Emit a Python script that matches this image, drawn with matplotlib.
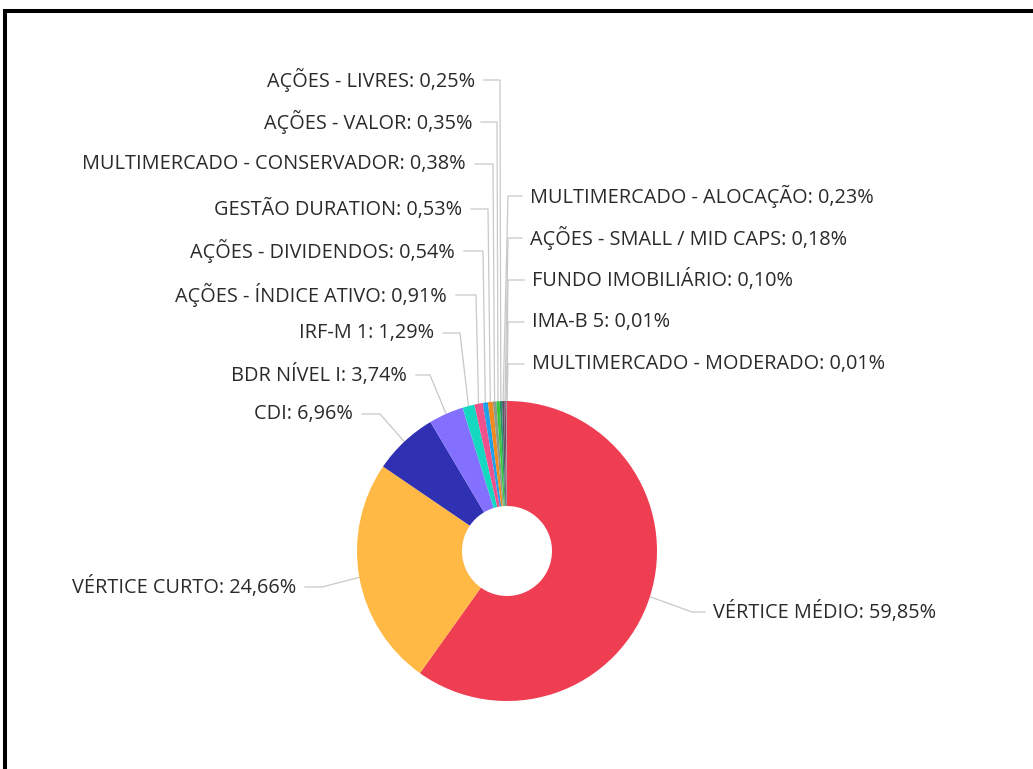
import matplotlib.pyplot as plt
import numpy as np

W, H = 1033, 769

categories = ['VÉRTICE MÉDIO', 'VÉRTICE CURTO', 'CDI', 'BDR NÍVEL I', 'IRF-M 1',
              'AÇÕES - ÍNDICE ATIVO', 'AÇÕES - DIVIDENDOS', 'GESTÃO DURATION',
              'MULTIMERCADO - CONSERVADOR', 'AÇÕES - VALOR', 'AÇÕES - LIVRES',
              'MULTIMERCADO - ALOCAÇÃO', 'AÇÕES - SMALL / MID CAPS',
              'FUNDO IMOBILIÁRIO', 'IMA-B 5', 'MULTIMERCADO - MODERADO']
values = [59.85, 24.66, 6.96, 3.74, 1.29, 0.91, 0.54, 0.53, 0.38, 0.35, 0.25,
          0.23, 0.18, 0.10, 0.01, 0.01]
colors = ['#ef3d52', '#ffb944', '#2f30b2', '#8470ff', '#14d9c0', '#f0508b',
          '#1ea0ea', '#f28a1e', '#8c9c8c', '#38c83c', '#2d8f6a', '#555566',
          '#7a4a6a', '#a0a0a0', '#303030', '#606060']

# label layout in pixels: (side, text x, text y, elbow x)
label_pos = [('R', 713, 612, 692), ('L', 296, 587, 322), ('L', 353, 414, 380),
             ('L', 407, 375, 430), ('L', 434, 333, 460), ('L', 447, 295, 476),
             ('L', 455, 251, 483), ('L', 462, 209, 488), ('L', 466, 164, 493),
             ('L', 472, 122, 497), ('L', 475, 80, 500), ('R', 530, 196, 508),
             ('R', 530, 238, 508), ('R', 532, 280, 508), ('R', 532, 322, 508),
             ('R', 532, 364, 508)]

cx, cy, r, r_in = 507, 551, 150, 45

fig = plt.figure(figsize=(W / 100, H / 100), dpi=100)
ax = fig.add_axes([0, 0, 1, 1])

wedges, _ = ax.pie(values, colors=colors, startangle=90, counterclock=False,
                   radius=r, center=(cx, H - cy),
                   wedgeprops=dict(width=r - r_in, linewidth=0))

for w, name, v, (side, tx, ty, ex) in zip(wedges, categories, values, label_pos):
    mid = np.deg2rad((w.theta1 + w.theta2) / 2)
    px = cx + r * np.cos(mid)
    py = H - cy + r * np.sin(mid)
    gap = 9 if side == 'L' else -8
    ax.plot([tx + gap, ex, px], [H - ty, H - ty, py], color='#c8c8c8', lw=0.9,
            zorder=0)
    txt = '{}: {}%'.format(name, '{:.2f}'.format(v).replace('.', ','))
    ax.text(tx, H - ty, txt, ha='right' if side == 'L' else 'left', va='center',
            fontsize=14.3, family='Open Sans', color='#2a2a2a')

# frame lines at top and left
ax.plot([4.5, 4.5, W], [0, H - 11, H - 11], color='black', lw=2.9,
        solid_joinstyle='miter')

ax.set_xlim(0, W)
ax.set_ylim(0, H)
ax.set_aspect('auto')
ax.axis('off')

fig.savefig('out.png', dpi=100)
